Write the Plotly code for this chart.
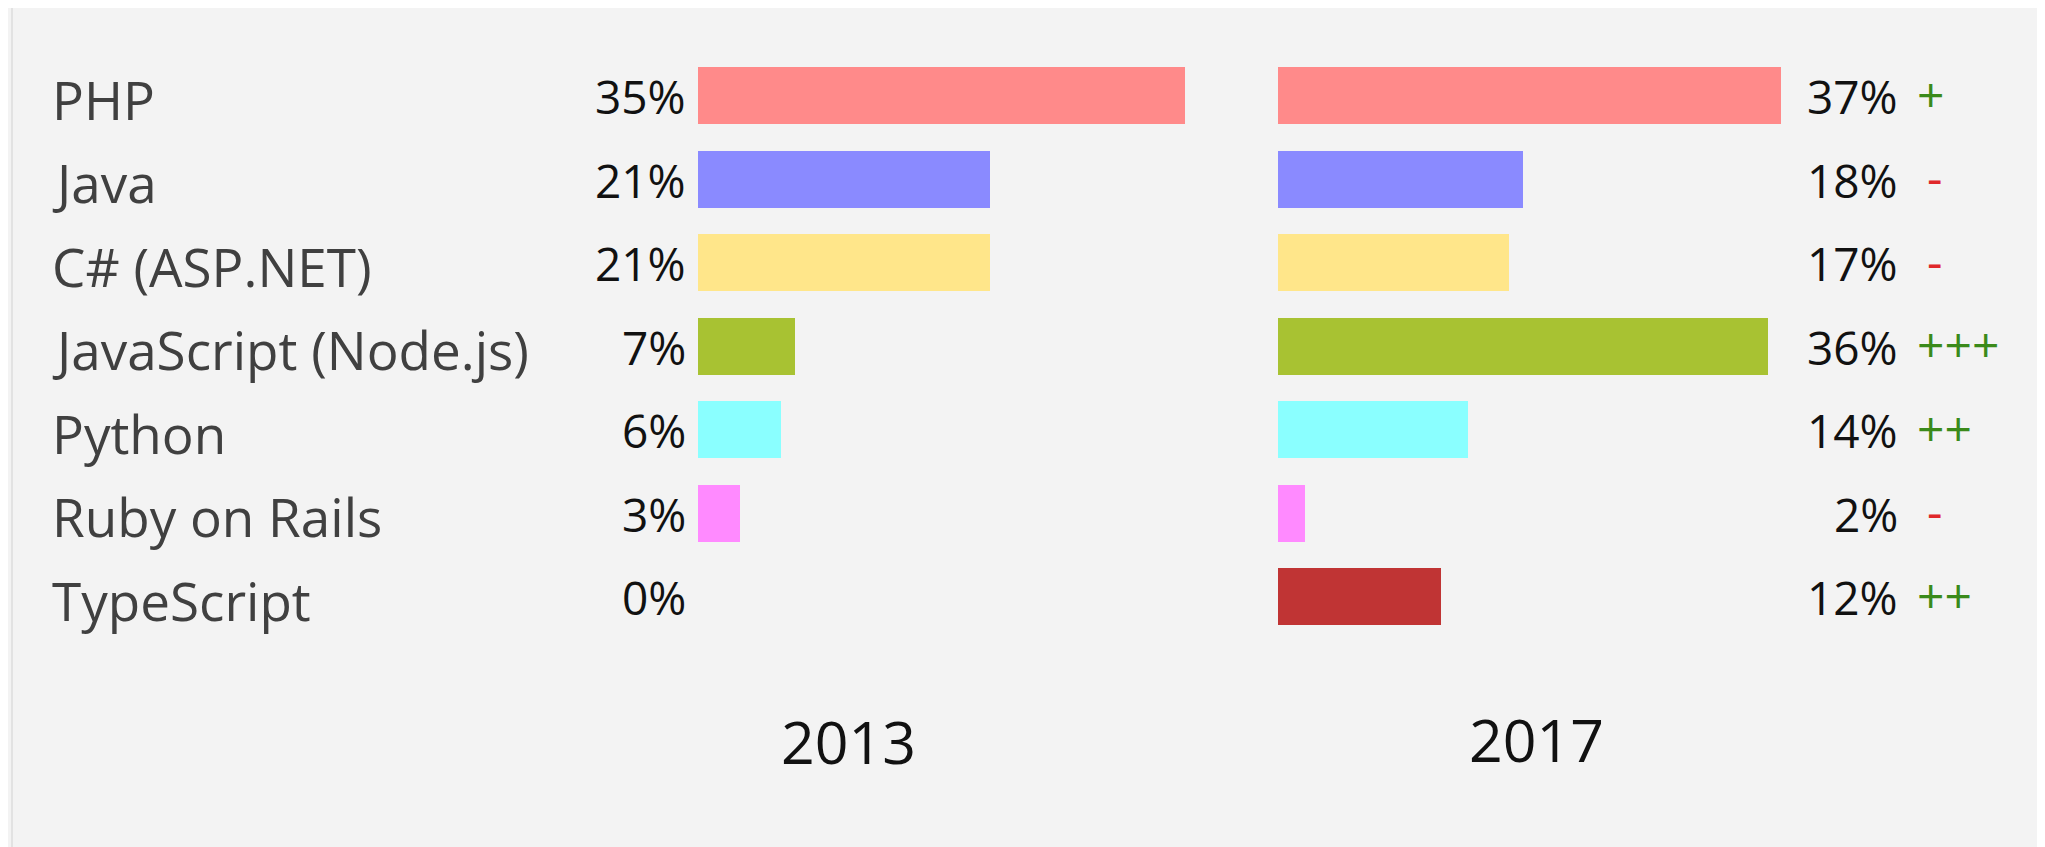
import plotly.graph_objects as go

W, H = 2045, 847
OFF = 8  # default page body margin

languages = ["PHP", "Java", "C# (ASP.NET)", "JavaScript (Node.js)", "Python", "Ruby on Rails", "TypeScript"]
share_2013 = [35, 21, 21, 7, 6, 3, 0]
share_2017 = [37, 18, 17, 36, 14, 2, 12]
trend = ["+", "-", "-", "+++", "++", "-", "++"]
bar_colors = ["#ff8a8a", "#8a8aff", "#ffe68a", "#a8c232", "#8affff", "#ff8aff", "#c03434"]
years = ["2013", "2017"]

rows = list(range(len(languages)))
FONT = "Open Sans"


def pxx(x):
    return (x - OFF) / W


def pxy(y):
    return 1 - (y - OFF) / H


fig = go.Figure()
fig.add_trace(go.Bar(x=share_2013, y=rows, orientation="h", marker=dict(color=bar_colors, line=dict(width=0)),
                     width=0.68, xaxis="x", yaxis="y", hoverinfo="skip"))
fig.add_trace(go.Bar(x=share_2017, y=rows, orientation="h", marker=dict(color=bar_colors, line=dict(width=0)),
                     width=0.68, xaxis="x2", yaxis="y", hoverinfo="skip"))

px_per_1, px_per_2 = 13.9, 13.6
x1_left, x2_left = 698, 1278
rng = 40
top_px, pitch = 96 - 83.5 / 2, 83.5
bot_px = top_px + pitch * len(languages)

annotations = []
for i, lang in enumerate(languages):
    annotations.append(dict(x=pxx(50), xref="paper", y=i, yref="y", text=lang, showarrow=False,
                            xanchor="left", yanchor="middle", yshift=-3,
                            font=dict(family=FONT, size=53, color="#404040")))
    annotations.append(dict(x=0, xref="x", y=i, yref="y", text=f"{share_2013[i]}%", showarrow=False,
                            xanchor="right", yanchor="middle", xshift=-10,
                            font=dict(family=FONT, size=46, color="#111111")))
    annotations.append(dict(x=pxx(1900), xref="paper", y=i, yref="y", text=f"{share_2017[i]}%", showarrow=False,
                            xanchor="right", yanchor="middle",
                            font=dict(family=FONT, size=46, color="#111111")))
    up = trend[i].startswith("+")
    col = "#3a8a1a" if up else "#e0282a"
    annotations.append(dict(x=pxx(1915), xref="paper", y=i, yref="y", text=trend[i], showarrow=False,
                            xanchor="left", yanchor="middle", yshift=3, xshift=0 if up else 10,
                            font=dict(family=FONT, size=48, color=col)))

for yr, cx, cy in zip(years, [848, 1536], [741, 739]):
    annotations.append(dict(x=pxx(cx), xref="paper", y=pxy(cy), yref="paper", text=yr, showarrow=False,
                            xanchor="center", yanchor="middle",
                            font=dict(family=FONT, size=59, color="#111111")))

fig.update_layout(
    width=W, height=H, margin=dict(l=0, r=0, t=0, b=0),
    paper_bgcolor="#f3f3f3", plot_bgcolor="rgba(0,0,0,0)",
    showlegend=False, bargap=0,
    xaxis=dict(domain=[pxx(x1_left), pxx(x1_left + px_per_1 * rng)], range=[0, rng], visible=False, fixedrange=True),
    xaxis2=dict(domain=[pxx(x2_left), pxx(x2_left + px_per_2 * rng)], range=[0, rng], visible=False, fixedrange=True),
    yaxis=dict(domain=[pxy(bot_px), pxy(top_px)], range=[len(languages) - 0.5, -0.5],
               visible=False, fixedrange=True),
    annotations=annotations,
    shapes=[dict(type="rect", xref="paper", yref="paper", x0=pxx(12), x1=pxx(2038), y0=-0.05, y1=pxy(6),
                 line=dict(color="#e2e2e2", width=2), fillcolor="rgba(0,0,0,0)", layer="below")],
)

fig.write_html("out.html", config={"displayModeBar": False})
